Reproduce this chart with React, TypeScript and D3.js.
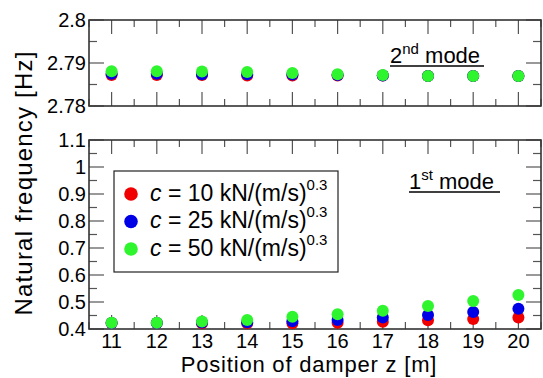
import * as d3 from 'd3';

// damper positions along the cable [m]
const positions = [11, 12, 13, 14, 15, 16, 17, 18, 19, 20];

// 2nd mode natural frequency [Hz]
const mode2C10 = [2.7872, 2.7872, 2.7872, 2.7871, 2.7871, 2.7871, 2.7871, 2.787, 2.787, 2.787];
const mode2C25 = [2.7875, 2.7875, 2.7874, 2.7874, 2.7873, 2.7872, 2.7871, 2.787, 2.787, 2.787];
const mode2C50 = [2.7881, 2.7881, 2.788, 2.7879, 2.7877, 2.7874, 2.7872, 2.787, 2.787, 2.787];

// 1st mode natural frequency [Hz]
const mode1C10 = [0.422, 0.422, 0.421, 0.421, 0.421, 0.423, 0.427, 0.432, 0.437, 0.443];
const mode1C25 = [0.422, 0.422, 0.424, 0.425, 0.429, 0.433, 0.443, 0.452, 0.463, 0.475];
const mode1C50 = [0.423, 0.423, 0.428, 0.433, 0.445, 0.455, 0.468, 0.485, 0.504, 0.526];

const seriesLabels = ['10', '25', '50'];
const seriesColors = ['#f00000', '#0000e6', '#2ff52f'];

const xMajorTicks = [11, 12, 13, 14, 15, 16, 17, 18, 19, 20];
const xMinorTicks = [10.5, 11.5, 12.5, 13.5, 14.5, 15.5, 16.5, 17.5, 18.5, 19.5, 20.5];
const topMajorTicks = [2.78, 2.79, 2.8];
const topTickLabels = ['2.78', '2.79', '2.8'];
const topMinorTicks = [2.785, 2.795];
const botMajorTicks = [0.4, 0.5, 0.6, 0.7, 0.8, 0.9, 1.0, 1.1];
const botTickLabels = ['0.4', '0.5', '0.6', '0.7', '0.8', '0.9', '1', '1.1'];
const botMinorTicks = [0.45, 0.55, 0.65, 0.75, 0.85, 0.95, 1.05];

const FONT = 'Liberation Sans, Arial, sans-serif';
const W = 543;
const H = 378;
const frameColor = '#333';
const tickColor = '#555';

const x = d3.scaleLinear().domain([10.5, 20.5]).range([89, 541]);
const yTop = d3.scaleLinear().domain([2.78, 2.8]).range([106, 20]);
const yBot = d3.scaleLinear().domain([0.4, 1.1]).range([329, 140]);

function Panel({ y, majors, minors, labels, showX }: any) {
  const [y0, y1] = y.range();
  const [x0, x1] = x.range();
  const MAJ = 14;
  const MIN = 7;
  return (
    <g>
      {xMajorTicks.map((t) => (
        <g key={'xm' + t}>
          <line x1={x(t)} x2={x(t)} y1={y1} y2={y1 + MAJ} stroke={tickColor} strokeWidth={1.2} />
          <line x1={x(t)} x2={x(t)} y1={y0} y2={y0 - MAJ} stroke={tickColor} strokeWidth={1.2} />
        </g>
      ))}
      {xMinorTicks.map((t) => (
        <g key={'xn' + t}>
          <line x1={x(t)} x2={x(t)} y1={y1} y2={y1 + MIN} stroke={tickColor} strokeWidth={1.2} />
          <line x1={x(t)} x2={x(t)} y1={y0} y2={y0 - MIN} stroke={tickColor} strokeWidth={1.2} />
        </g>
      ))}
      {majors.map((t: number, i: number) => (
        <g key={'ym' + t}>
          <line x1={x0} x2={x0 + 15} y1={y(t)} y2={y(t)} stroke={tickColor} strokeWidth={1.2} />
          <line x1={x1} x2={x1 - 15} y1={y(t)} y2={y(t)} stroke={tickColor} strokeWidth={1.2} />
          <text x={x0 - 3} y={y(t)} dy="0.36em" textAnchor="end" fontSize={20} fontFamily={FONT}>
            {labels[i]}
          </text>
        </g>
      ))}
      {minors.map((t: number) => (
        <g key={'yn' + t}>
          <line x1={x0} x2={x0 + 8} y1={y(t)} y2={y(t)} stroke={tickColor} strokeWidth={1.2} />
          <line x1={x1} x2={x1 - 8} y1={y(t)} y2={y(t)} stroke={tickColor} strokeWidth={1.2} />
        </g>
      ))}
      {showX &&
        xMajorTicks.map((t) => (
          <text key={'xl' + t} x={x(t)} y={y0 + 19} textAnchor="middle" fontSize={20} fontFamily={FONT}>
            {t}
          </text>
        ))}
      <rect x={x0} y={y1} width={x1 - x0} height={y0 - y1} fill="none" stroke={frameColor} strokeWidth={1.6} />
    </g>
  );
}

function Dots({ y, series }: any) {
  return (
    <g>
      {series.map((vals: number[], si: number) =>
        vals.map((v, i) => (
          <circle key={si + '-' + i} cx={x(positions[i])} cy={y(v)} r={6} fill={seriesColors[si]} />
        ))
      )}
    </g>
  );
}

export default function App() {
  const legendX = 114;
  const legendY = 171;
  return (
    <svg width={W} height={H} style={{ position: 'absolute', left: 0, top: 0, background: '#fff' }}>
      <Panel y={yTop} majors={topMajorTicks} minors={topMinorTicks} labels={topTickLabels} showX={false} />
      <Panel y={yBot} majors={botMajorTicks} minors={botMinorTicks} labels={botTickLabels} showX={true} />
      <Dots y={yTop} series={[mode2C10, mode2C25, mode2C50]} />
      <Dots y={yBot} series={[mode1C10, mode1C25, mode1C50]} />

      {/* mode labels */}
      <text x={390} y={63} fontSize={22} fontFamily={FONT}>
        2<tspan dy={-9} fontSize={15}>nd</tspan>
        <tspan dy={9}> mode</tspan>
      </text>
      <line x1={390} x2={484} y1={66} y2={66} stroke="#000" strokeWidth={1.3} />
      <text x={409} y={189} fontSize={22} fontFamily={FONT}>
        1<tspan dy={-9} fontSize={15}>st</tspan>
        <tspan dy={9}> mode</tspan>
      </text>
      <line x1={409} x2={500} y1={192} y2={192} stroke="#000" strokeWidth={1.3} />

      {/* legend */}
      <rect x={legendX} y={legendY} width={224} height={101} fill="#fff" stroke="#222" strokeWidth={1.2} />
      {seriesLabels.map((lab, i) => (
        <g key={lab}>
          <circle cx={131} cy={194 + i * 27.5} r={6.8} fill={seriesColors[i]} />
          <text x={150} y={194 + i * 27.5} dy="0.3em" fontSize={23} fontFamily={FONT}>
            <tspan fontStyle="italic">c</tspan> = {lab} kN/(m/s)
            <tspan dy={-11} fontSize={15}>0.3</tspan>
          </text>
        </g>
      ))}

      {/* axis titles */}
      <text x={309} y={372} textAnchor="middle" fontSize={22} letterSpacing={0.8} fontFamily={FONT}>
        Position of damper z [m]
      </text>
      <text
        transform={`translate(32,183) rotate(-90)`}
        textAnchor="middle"
        fontSize={24}
        letterSpacing={1.2}
        fontFamily={FONT}
      >
        Natural frequency [Hz]
      </text>
    </svg>
  );
}
